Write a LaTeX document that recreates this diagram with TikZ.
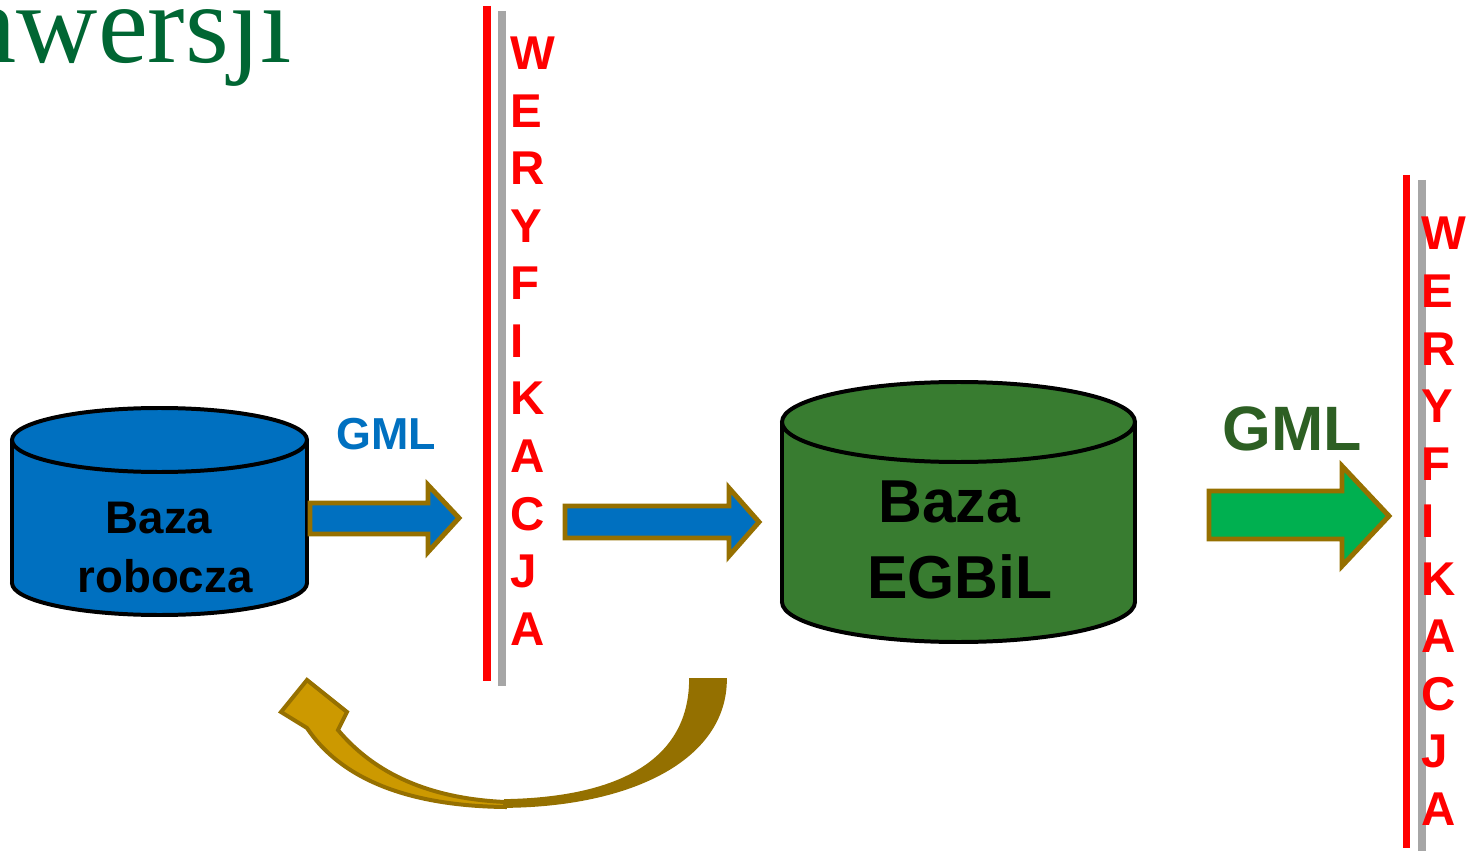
\documentclass[tikz,border=0pt]{standalone}
\usepackage{fontspec}
\setmainfont{Liberation Sans}
\newfontfamily\titlefont{Liberation Serif}
\definecolor{titlegreen}{RGB}{0,102,51}
\definecolor{dbblue}{RGB}{0,112,192}
\definecolor{dbgreen}{RGB}{56,124,48}
\definecolor{gmlgreen}{RGB}{45,95,35}
\definecolor{arrgreen}{RGB}{0,176,80}
\definecolor{arrline}{RGB}{150,112,0}
\definecolor{curvelight}{RGB}{204,153,0}
\definecolor{curvedark}{RGB}{148,112,0}
\definecolor{barred}{RGB}{255,0,0}
\definecolor{bargrey}{RGB}{166,166,166}
\newcommand{\fsz}[1]{\fontsize{#1}{#1}\selectfont}
% cylinder: centre x, top y, bottom y, x radius, y radius, fill
\newcommand{\dbcyl}[6]{%
  \draw[line width=2.27pt, fill=#6] (#1,#3) ellipse [x radius=#4, y radius=#5];
  \fill[#6] (#1-#4,#2) rectangle (#1+#4,#3);
  \draw[line width=2.27pt] (#1-#4,#2) -- (#1-#4,#3) (#1+#4,#2) -- (#1+#4,#3);
  \draw[line width=2.27pt, fill=#6] (#1,#2) ellipse [x radius=#4, y radius=#5];}
\begin{document}
\begin{tikzpicture}[x=0.02cm, y=-0.02cm, line join=miter,
  lbl/.style={font=\bfseries, inner sep=0pt, anchor=base},
  wer/.style={font=\bfseries\fsz{27}, text=barred, inner sep=0pt, anchor=base west},
  blockarr/.style={draw=arrline, line width=2.8pt},
  redbar/.style={draw=barred, line width=4.5pt},
  greybar/.style={draw=bargrey, line width=4.5pt}]
  \useasboundingbox (0,0) rectangle (1468,851);
  \clip (0,0) rectangle (1468,851);

  \node[inner sep=0pt, anchor=base east, text=titlegreen, font=\titlefont\fsz{64}] (title) at (292,63) {nwersji};

  % bazy danych
  \dbcyl{159.5}{440}{583}{147.5}{32}{dbblue}
  \node[lbl, font=\bfseries\fsz{26}] (bazaL) at (159,533) {Baza};
  \node[lbl, font=\bfseries\fsz{26}] (robocza) at (165,592) {robocza};
  \dbcyl{958.5}{422}{602}{176.5}{40}{dbgreen}
  \node[lbl, font=\bfseries\fsz{34.5}] (bazaR) at (949,522) {Baza};
  \node[lbl, font=\bfseries\fsz{34.5}] (egbil) at (960,598) {EGBiL};

  % strzalki
  \draw[blockarr, fill=dbblue] (310,503) -- (428,503) -- (428,485) -- (459,518) -- (428,552) -- (428,534) -- (310,534) -- cycle;
  \draw[blockarr, fill=dbblue] (565,506) -- (729,506) -- (729,488) -- (759,522) -- (729,556) -- (729,538) -- (565,538) -- cycle;
  \draw[blockarr, fill=arrgreen] (1209,491) -- (1342,491) -- (1342,466) -- (1389,516) -- (1342,566) -- (1342,539) -- (1209,539) -- cycle;
  \node[lbl, font=\bfseries\fsz{25.5}, text=dbblue] (gmlL) at (386.5,449) {GML};
  \node[lbl, font=\bfseries\fsz{35.7}, text=gmlgreen] (gmlR) at (1292,450) {GML};

  % strzalka powrotna
  \filldraw[curvedark, line width=1pt] (690,679) -- (726,679) .. controls (726,760) and (630,806) .. (505,807)
    -- (505,800) .. controls (620,798) and (690,760) .. (690,679) -- cycle;
  \filldraw[fill=curvelight, draw=arrline, line width=2.27pt] (307,680) -- (347,712) -- (338,730)
    .. controls (380,780) and (440,799) .. (505,802) -- (505,807)
    .. controls (420,806) and (345,785) .. (307,728) -- (281,712) -- cycle;

  % weryfikacja
  \draw[redbar] (487,6) -- (487,681);
  \draw[greybar] (502,11) -- (502,686);
  \foreach \l [count=\i from 0] in {W,E,R,Y,F,I,K,A,C,J,A}
    \node[wer] (wa\i) at (510,70+57.5*\i) {\l};
  \draw[redbar] (1406.5,175) -- (1406.5,848);
  \draw[greybar] (1422,180) -- (1422,851);
  \foreach \l [count=\i from 0] in {W,E,R,Y,F,I,K,A,C,J,A}
    \node[wer] (wb\i) at (1421,250+57.5*\i) {\l};
\end{tikzpicture}
\end{document}
